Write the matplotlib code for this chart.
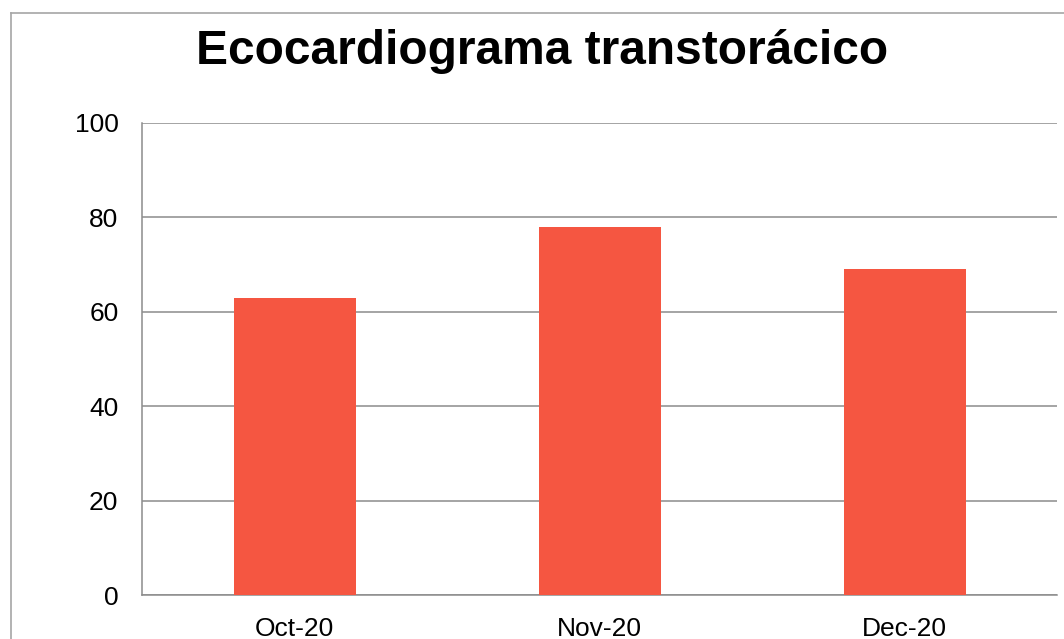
import matplotlib.pyplot as plt
from matplotlib.lines import Line2D

months = ["Oct-20", "Nov-20", "Dec-20"]
values = [63, 78, 69]
yticks = [0, 20, 40, 60, 80, 100]

plt.rcParams['font.family'] = ['Liberation Sans', 'DejaVu Sans']

fig = plt.figure(figsize=(10.64, 6.39), dpi=100)
ax = fig.add_axes([142 / 1064, 1 - 595.3 / 639, (1057 - 142) / 1064, (595.3 - 122.7) / 639])

x = range(len(months))
ax.bar(x, values, width=0.4, color='#F55641', zorder=3)
ax.set_xlim(-0.5, 2.5)
ax.set_ylim(0, 100)
ax.set_yticks(yticks)
ax.set_xticks(list(x))
ax.set_xticklabels(months)
ax.tick_params(axis='both', length=0, labelsize=19, colors='black')
ax.tick_params(axis='y', pad=17)
ax.tick_params(axis='x', pad=15.5)
ax.yaxis.grid(True, color='#8c8c8c', linewidth=1.1, zorder=0)
for s in ['top', 'right']:
    ax.spines[s].set_visible(False)
for s in ['left', 'bottom']:
    ax.spines[s].set_color('#8c8c8c')
    ax.spines[s].set_linewidth(1.1)

fig.text(542 / 1064, 1 - 51 / 639, "Ecocardiograma transtorácico",
         ha='center', va='center', fontsize=34.5, fontweight='bold')

# outer chart border (right and bottom run off the image)
bx, by = 10.5 / 1064, 1 - 12.5 / 639
fig.add_artist(Line2D([bx, bx], [0, by], color='#a6a6a6', linewidth=1.2, transform=fig.transFigure))
fig.add_artist(Line2D([bx, 1], [by, by], color='#a6a6a6', linewidth=1.2, transform=fig.transFigure))

fig.savefig('out.png', dpi=100)
